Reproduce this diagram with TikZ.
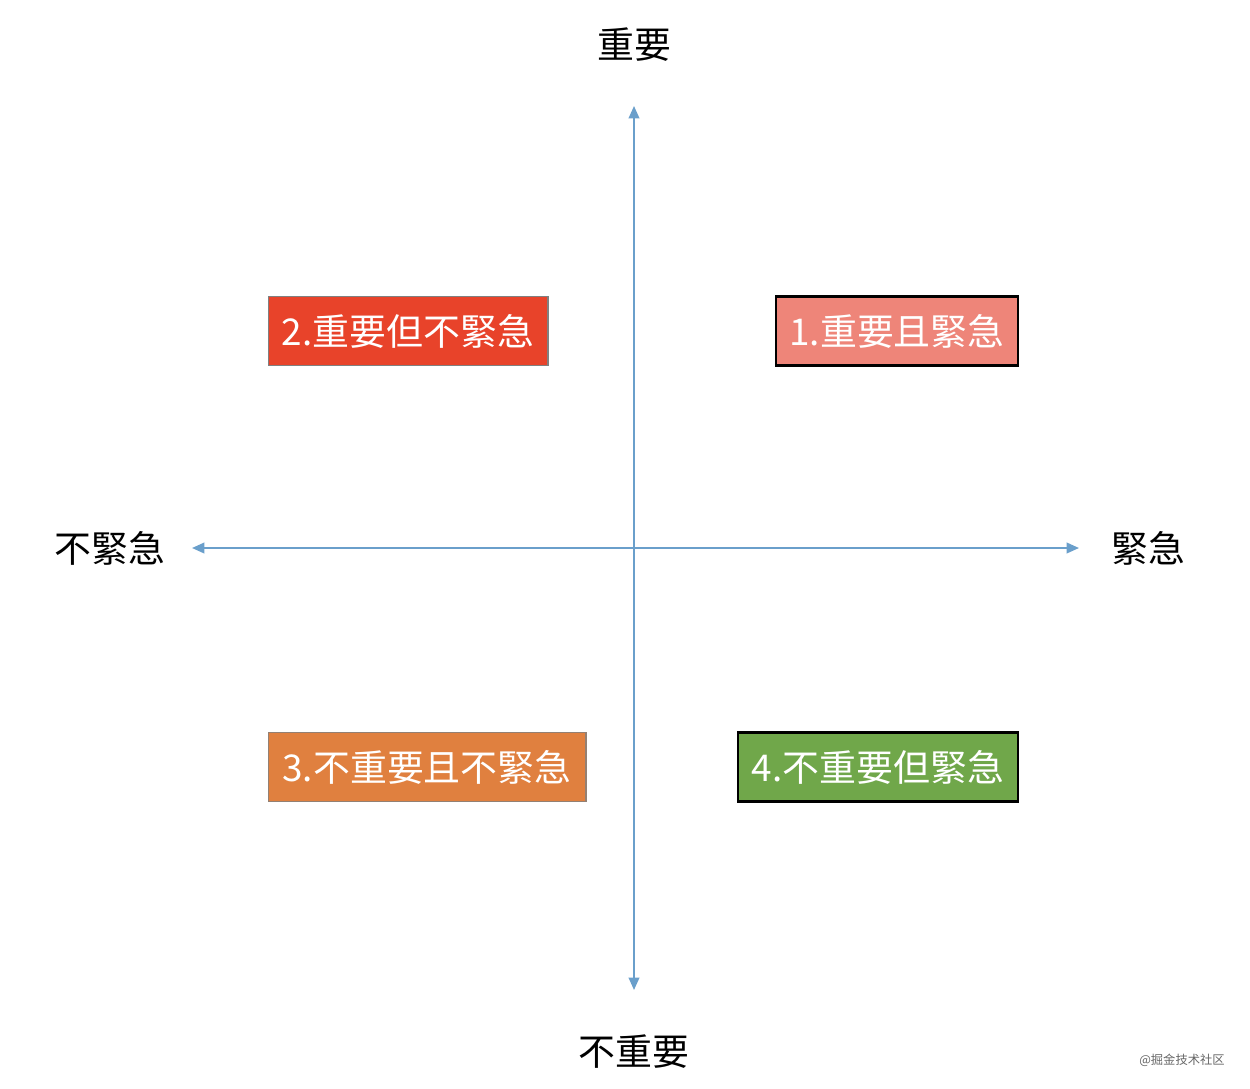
\documentclass[tikz,border=0pt]{standalone}
\usepackage{fontspec}
\setmainfont{Noto Sans CJK SC}
\usetikzlibrary{arrows.meta,positioning}
\definecolor{axisblue}{HTML}{6A9FCB}
\definecolor{redq}{HTML}{E8432A}
\definecolor{pinkq}{HTML}{EE8579}
\definecolor{orangeq}{HTML}{E0803F}
\definecolor{greenq}{HTML}{70A74A}
\begin{document}
\begin{tikzpicture}[x=0.02cm, y=-0.02cm,
  axis/.style={draw=axisblue, line width=1.1pt, {Triangle[length=7pt,width=6pt]}-{Triangle[length=7pt,width=6pt]}},
  quad/.style={minimum height=1.38cm, inner sep=0pt, text=white, font=\fontsize{21}{25}\selectfont},
  label/.style={font=\fontsize{21}{25}\selectfont, inner sep=0pt}]
  \useasboundingbox (0,0) rectangle (1250,1088);

  % axis ends
  \coordinate (top) at (634,106);
  \coordinate (bottom) at (634,990);
  \coordinate (left) at (192,548);
  \coordinate (right) at (1079,548);

  % axes
  \draw[axis] (bottom) -- (top);
  \draw[axis] (left) -- (right);

  % axis labels
  \node[label] (imp) at (634,45) {重要};
  \node[label] (notimp) at (634,1052) {不重要};
  \node[label] (noturg) at (110,548) {不緊急};
  \node[label] (urg) at (1148,548) {緊急};

  % quadrants
  \node[quad, fill=pinkq, draw=black, line width=1.2pt, minimum width=4.84cm] (q1) at (897,331) {1.重要且緊急};
  \node[quad, fill=redq, draw=gray, line width=0.6pt, minimum width=5.6cm] (q2) at (408,331) {2.重要但不緊急};
  \node[quad, fill=orangeq, draw=gray!80!orangeq, line width=0.6pt, minimum width=6.36cm] (q3) at (427,767) {3.不重要且不緊急};
  \node[quad, fill=greenq, draw=black, line width=1.2pt, minimum width=5.6cm] (q4) at (878,767) {4.不重要但緊急};

  % watermark
  \node[font=\fontsize{7}{8}\selectfont, text=gray!80!black, inner sep=0pt] (mark) at (1182,1060) {@掘金技术社区};
\end{tikzpicture}
\end{document}
